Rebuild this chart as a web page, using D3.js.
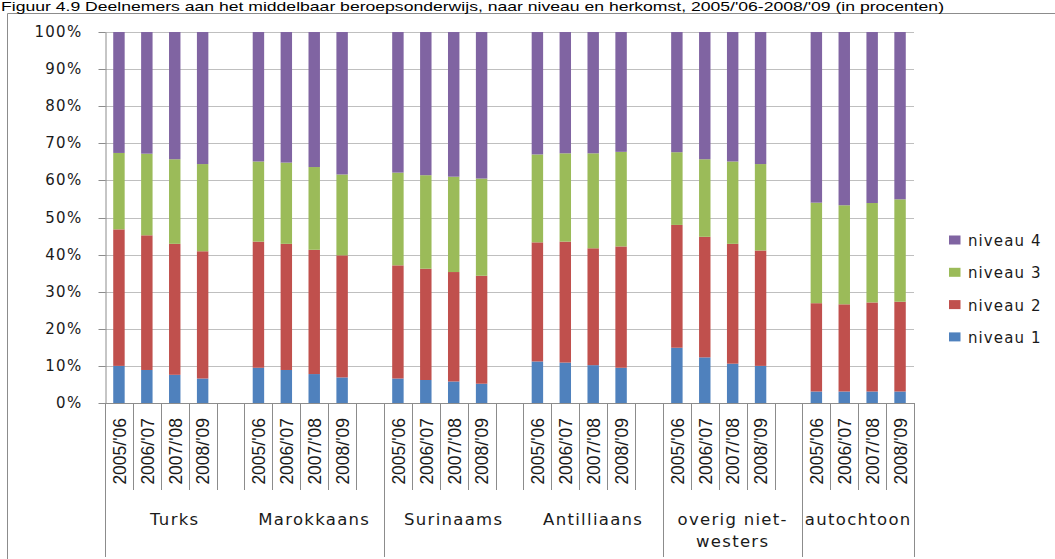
<!DOCTYPE html>
<html>
<head>
<meta charset="utf-8">
<script src="https://cdn.jsdelivr.net/npm/d3@7"></script>
<style>
  html, body { margin: 0; padding: 0; background: #fff; }
  svg { display: block; }
</style>
</head>
<body>
<svg id="chart" width="1055" height="559"></svg>
<script>
// ---- data ----
const title = "Figuur 4.9 Deelnemers aan het middelbaar beroepsonderwijs, naar niveau en herkomst, 2005/'06-2008/'09 (in procenten)";
const groups = ["Turks", "Marokkaans", "Surinaams", "Antilliaans", "overig niet-westers", "autochtoon"];
const years = ["2005/'06", "2006/'07", "2007/'08", "2008/'09"];
const seriesNames = ["niveau 1", "niveau 2", "niveau 3", "niveau 4"];
const niveau1 = [10.0, 8.9, 7.6, 6.6,  9.5, 8.9, 7.8, 6.9,  6.6, 6.2, 5.8, 5.2,  11.2, 10.9, 10.2, 9.5,  14.9, 12.3, 10.6, 10.0,  3.1, 3.1, 3.1, 3.1];
const niveau2 = [36.8, 36.3, 35.3, 34.3,  34.0, 34.0, 33.5, 32.9,  30.5, 30.0, 29.5, 29.1,  32.1, 32.6, 31.5, 32.7,  33.1, 32.5, 32.3, 31.1,  23.8, 23.5, 24.0, 24.2];
const niveau3 = [20.6, 22.0, 22.8, 23.5,  21.6, 21.9, 22.3, 21.8,  25.0, 25.2, 25.7, 26.2,  23.7, 23.8, 25.6, 25.5,  19.6, 20.9, 22.2, 23.3,  27.1, 26.7, 26.8, 27.6];
const niveau4 = [32.6, 32.8, 34.3, 35.6,  34.9, 35.2, 36.4, 38.4,  37.9, 38.6, 39.0, 39.5,  33.0, 32.7, 32.7, 32.3,  32.4, 34.3, 34.9, 35.6,  46.0, 46.7, 46.1, 45.1];
const yTicks = [0, 0.1, 0.2, 0.3, 0.4, 0.5, 0.6, 0.7, 0.8, 0.9, 1.0];
const colors = ["#4F81BD", "#C0504D", "#9BBB59", "#8064A2"];

// ---- build slots (4 bars + 1 empty slot per group, last group without gap) ----
const slots = [];
const rows = [];
groups.forEach((g, gi) => {
  years.forEach((yr, yi) => {
    const key = g + "|" + yr;
    slots.push(key);
    const i = gi * 4 + yi;
    const tot = niveau1[i] + niveau2[i] + niveau3[i] + niveau4[i];
    rows.push({ key, group: g, year: yr,
      "niveau 1": niveau1[i] / tot, "niveau 2": niveau2[i] / tot,
      "niveau 3": niveau3[i] / tot, "niveau 4": niveau4[i] / tot });
  });
  if (gi < groups.length - 1) slots.push(g + "|gap");
});

const svg = d3.select("#chart");
const pLeft = 105, pRight = 914, pTop = 32, pBottom = 403;

const x = d3.scaleBand().domain(slots).range([pLeft, pRight]).padding(0);
const y = d3.scaleLinear().domain([0, 1]).range([pBottom, pTop]);
const color = d3.scaleOrdinal().domain(seriesNames).range(colors);

// outer frame
svg.append("path")
  .attr("d", `M7.5,559 V13.5 H1055`)
  .attr("fill", "none").attr("stroke", "#8c8c8c").attr("stroke-width", 1);

// title
svg.append("text")
  .attr("x", 1).attr("y", 10.5)
  .attr("font-family", "Liberation Sans, Arial, sans-serif")
  .attr("font-size", 13.5)
  .attr("textLength", 943).attr("lengthAdjust", "spacingAndGlyphs")
  .attr("fill", "#000")
  .text(title);

// gridlines
svg.append("g")
  .selectAll("line").data(yTicks.filter(d => d > 0)).join("line")
  .attr("x1", pLeft).attr("x2", pRight)
  .attr("y1", d => Math.round(y(d)) + 0.5).attr("y2", d => Math.round(y(d)) + 0.5)
  .attr("stroke", "#bfbfbf").attr("stroke-width", 1);

// y axis
const yAxis = svg.append("g")
  .attr("transform", `translate(${pLeft + 0.5},0)`)
  .call(d3.axisLeft(y).tickValues(yTicks).tickFormat(d3.format(".0%")).tickSize(7).tickSizeOuter(0).tickPadding(16));
yAxis.select(".domain").attr("stroke", "#8c8c8c");
yAxis.selectAll(".tick line").attr("stroke", "#8c8c8c");
yAxis.selectAll(".tick").attr("transform", d => `translate(0,${Math.round(y(d)) + 0.5})`);
yAxis.selectAll("text")
  .attr("font-family", "DejaVu Sans, Verdana, sans-serif")
  .attr("font-size", 15).attr("letter-spacing", 1.3).attr("fill", "#1a1a1a");

// bars
const stack = d3.stack().keys(seriesNames);
const stacked = stack(rows);
const barW = x.bandwidth() * 0.41;
svg.append("g")
  .selectAll("g").data(stacked).join("g")
  .attr("fill", d => color(d.key))
  .selectAll("rect").data(d => d).join("rect")
  .attr("x", d => x(d.data.key) + (x.bandwidth() - barW) / 2)
  .attr("width", barW)
  .attr("y", d => y(d[1]))
  .attr("height", d => y(d[0]) - y(d[1]));

// x axis line
svg.append("line")
  .attr("x1", pLeft).attr("x2", pRight)
  .attr("y1", pBottom + 0.5).attr("y2", pBottom + 0.5)
  .attr("stroke", "#8c8c8c");

// category boundaries
const bounds = slots.map(s => x(s)).concat([pRight]);
const gbSet = new Set();
gbSet.add(pLeft); gbSet.add(pRight);
slots.forEach(s => { if (s.endsWith("|gap")) gbSet.add(x(s) + x.bandwidth()); });
svg.append("g")
  .selectAll("line").data(bounds).join("line")
  .attr("x1", d => Math.round(d) + 0.5).attr("x2", d => Math.round(d) + 0.5)
  .attr("y1", pBottom).attr("y2", d => gbSet.has(d) ? 557 : 490)
  .attr("stroke", "#8c8c8c");

// year labels
svg.append("g")
  .selectAll("text").data(rows).join("text")
  .attr("transform", d => `translate(${x(d.key) + x.bandwidth() / 2 + 0.7},418) rotate(-90)`)
  .attr("text-anchor", "end").attr("dy", "0.35em")
  .attr("font-family", "Liberation Sans, Arial, sans-serif")
  .attr("font-size", 17.5).attr("fill", "#1a1a1a")
  .text(d => d.year);

// group labels
const gbArr = Array.from(gbSet).sort((a, b) => a - b);
svg.append("g")
  .selectAll("text").data(groups).join("text")
  .attr("x", (d, i) => (gbArr[i] + gbArr[i + 1]) / 2)
  .attr("y", 525)
  .attr("text-anchor", "middle")
  .attr("font-family", "DejaVu Sans, Verdana, sans-serif")
  .attr("font-size", 16.5).attr("letter-spacing", 1.3).attr("fill", "#1a1a1a")
  .each(function (d) {
    const t = d3.select(this);
    if (d === "overig niet-westers") {
      t.append("tspan").attr("x", t.attr("x")).attr("dy", 0).text("overig niet-");
      t.append("tspan").attr("x", t.attr("x")).attr("dy", 22).text("westers");
    } else {
      t.text(d);
    }
  });

// legend
const legendOrder = seriesNames.slice().reverse();
const lg = svg.append("g").selectAll("g").data(legendOrder).join("g")
  .attr("transform", (d, i) => `translate(949,${235.5 + i * 32.3})`);
lg.append("rect").attr("width", 11.5).attr("height", 9).attr("fill", d => color(d));
lg.append("text").attr("x", 19).attr("y", 10.5)
  .attr("font-family", "DejaVu Sans, Verdana, sans-serif")
  .attr("font-size", 15).attr("letter-spacing", 1.1).attr("fill", "#1a1a1a")
  .text(d => d);
</script>
</body>
</html>
